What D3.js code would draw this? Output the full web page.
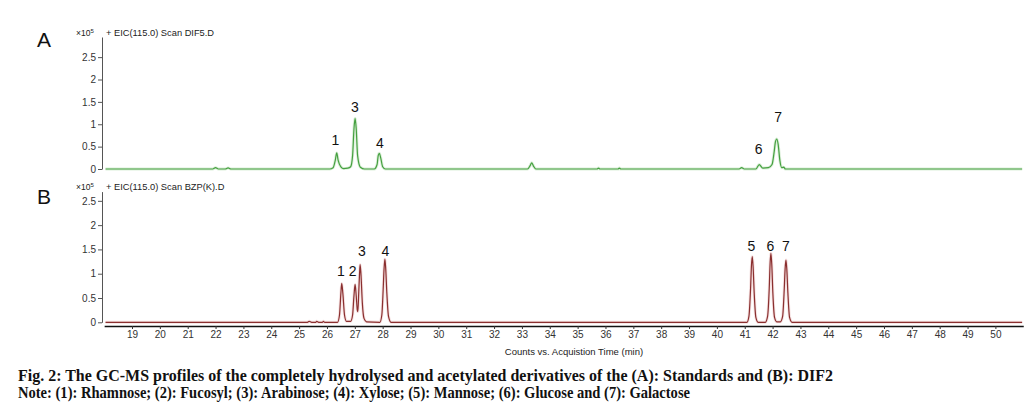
<!DOCTYPE html>
<html>
<head>
<meta charset="utf-8">
<script src="https://d3js.org/d3.v7.min.js"></script>
<style>
  html, body { margin: 0; padding: 0; background: #fff; }
  svg { display: block; }
</style>
</head>
<body>
<script>
// ---------- data ----------
const xTicks = d3.range(19, 51);
const yTicks = [0, 0.5, 1, 1.5, 2, 2.5];

// Panel A (standards) trace: retention time (min) and counts (x10^5)
const traceATime = [18.05,21.9,22.0,22.1,22.35,22.45,22.55,
  26.1,26.22,26.3,26.35,26.4,26.5,26.6,26.75,26.85,26.92,26.97,27.01,27.05,27.1,27.2,27.35,
  27.7,27.8,27.84,27.88,27.93,28.0,28.1,
  33.2,33.3,33.35,33.42,33.5,
  35.7,35.75,35.8,36.45,36.5,36.55,
  40.8,40.89,40.98,
  41.4,41.52,41.65,41.85,41.98,42.06,42.1,42.15,42.2,42.26,42.33,42.4,42.46,
  50.96];
const traceAValue = [0,0,0.03,0,0,0.025,0,
  0,0.03,0.2,0.36,0.2,0.05,0.01,0.02,0.05,0.3,0.9,1.13,0.9,0.3,0.04,0,
  0,0.1,0.3,0.35,0.25,0.05,0,
  0,0.08,0.14,0.06,0,
  0,0.02,0,0,0.02,0,
  0,0.03,0,
  0,0.1,0.02,0.03,0.1,0.4,0.6,0.67,0.55,0.2,0.03,0.04,0,
  0];
const peakALabels = ["1","3","4","6","7"];
const peakATime   = [26.3, 27.0, 27.9, 41.5, 42.2];
const peakALabelValue = [0.66, 1.38, 0.58, 0.44, 1.16];

// Panel B (DIF2) trace
const traceBTime = [18.05,25.3,25.36,25.45,25.6,25.63,25.7,25.84,25.87,25.92,
  26.38,26.45,26.5,26.53,26.57,26.63,26.7,
  26.85,26.92,26.97,27.01,27.05,27.09,27.11,27.14,27.17,27.19,27.22,27.27,27.33,27.42,
  27.9,27.97,28.02,28.05,28.08,28.11,28.15,28.21,28.3,
  41.08,41.15,41.21,41.24,41.27,41.3,41.34,41.4,41.48,
  41.74,41.82,41.88,41.91,41.94,41.97,42.01,42.07,42.15,
  42.28,42.36,42.42,42.45,42.48,42.51,42.55,42.61,42.7,
  50.96];
const traceBValue = [0,0,0.02,0,0,0.02,0,0,0.02,0,
  0,0.15,0.6,0.8,0.6,0.15,0.02,
  0.02,0.15,0.55,0.78,0.55,0.25,0.22,0.6,1.0,1.19,1.0,0.4,0.08,0.01,
  0,0.15,0.7,1.1,1.3,1.1,0.6,0.12,0,
  0,0.12,0.7,1.15,1.35,1.15,0.6,0.1,0,
  0,0.12,0.7,1.2,1.42,1.2,0.6,0.1,0.01,
  0.01,0.12,0.7,1.1,1.28,1.1,0.6,0.1,0,
  0];
const peakBLabels = ["1","2","3","4","5","6","7"];
const peakBTime   = [26.5, 26.92, 27.25, 28.1, 41.24, 41.92, 42.48];
const peakBLabelValue = [1.05, 1.05, 1.47, 1.47, 1.58, 1.58, 1.58];

const captionLines = [
  "Fig. 2: The GC-MS profiles of the completely hydrolysed and acetylated derivatives of the (A): Standards and (B): DIF2",
  "Note: (1): Rhamnose; (2): Fucosyl; (3): Arabinose; (4): Xylose; (5): Mannose; (6): Glucose and (7): Galactose"
];

// ---------- drawing ----------
const W = 1034, H = 411;
const svg = d3.select("body").append("svg").attr("width", W).attr("height", H)
  .style("font-family", "Arial, 'Liberation Sans', sans-serif");

const x = d3.scaleLinear().domain([18, 51]).range([104.15, 1023.25]);
const yA = d3.scaleLinear().domain([0, 2.95]).range([169, 37]);
const yB = d3.scaleLinear().domain([0, 2.69]).range([322.3, 191.6]);
const axisX = 102;

function panel(y, times, values, color, halo, labels, pTimes, pValues, letter, header, letterY, headerY) {
  const g = svg.append("g").attr("transform", `translate(${axisX},0)`)
    .call(d3.axisLeft(y).tickValues(yTicks).tickSize(4).tickSizeOuter(0).tickPadding(2)
      .tickFormat(d => String(d)));
  g.select(".domain").attr("stroke", "#555");
  g.selectAll(".tick line").attr("stroke", "#555");
  g.selectAll(".tick text").attr("fill", "#333").style("font-size", "10px");

  const pts = times.map((t, i) => [t, values[i]]);
  const line = d3.line().x(d => x(d[0])).y(d => y(d[1])).curve(d3.curveMonotoneX);
  svg.append("path").datum(pts).attr("d", line).attr("fill", "none")
    .attr("stroke", halo).attr("stroke-width", 3).attr("stroke-opacity", 0.4);
  svg.append("path").datum(pts).attr("d", line).attr("fill", "none")
    .attr("stroke", color).attr("stroke-width", 1.2);

  svg.append("g").selectAll("text").data(labels).join("text")
    .attr("x", (d, i) => x(pTimes[i]))
    .attr("y", (d, i) => y(pValues[i]))
    .attr("dy", "0.36em")
    .attr("text-anchor", "middle")
    .style("font-size", "14px").attr("fill", "#111")
    .text(d => d);

  svg.append("text").attr("x", 37).attr("y", letterY).text(letter)
    .style("font-size", "21px").attr("fill", "#111");
  const h = svg.append("text").attr("x", 76).attr("y", headerY)
    .style("font-size", "8.5px").attr("fill", "#222");
  h.append("tspan").text("\u00d710");
  h.append("tspan").attr("dy", -3).style("font-size", "6px").text("5");
  svg.append("text").attr("x", 106).attr("y", headerY)
    .style("font-size", "9.3px").attr("fill", "#222").text(header);
}

panel(yA, traceATime, traceAValue, "#45a040", "#a8d8a0", peakALabels, peakATime, peakALabelValue,
  "A", "+ EIC(115.0) Scan DIF5.D", 47, 36);
panel(yB, traceBTime, traceBValue, "#8a2f2f", "#e6b4b4", peakBLabels, peakBTime, peakBLabelValue,
  "B", "+ EIC(115.0) Scan BZP(K).D", 204, 190);

// x axis (under panel B)
const gx = svg.append("g").attr("transform", "translate(0,326)")
  .call(d3.axisBottom(x).tickValues(xTicks).tickSize(3).tickSizeOuter(0).tickPadding(2)
    .tickFormat(d3.format("d")));
gx.select(".domain").attr("stroke", "#111").attr("stroke-width", 1.6);
gx.selectAll(".tick line").attr("stroke", "#333");
gx.selectAll(".tick text").attr("fill", "#333").style("font-size", "10px");

svg.append("text").attr("x", 574).attr("y", 355).attr("text-anchor", "middle")
  .style("font-size", "9.5px").attr("fill", "#222")
  .text("Counts vs. Acquistion Time (min)");

// caption
const capW = [815, 672];
svg.append("g").selectAll("text").data(captionLines).join("text")
  .attr("x", 18).attr("y", (d, i) => 381 + i * 17)
  .attr("textLength", (d, i) => capW[i]).attr("lengthAdjust", "spacingAndGlyphs")
  .style("font-family", "'Liberation Serif', 'Times New Roman', serif")
  .style("font-weight", "bold").style("font-size", "16.5px").attr("fill", "#111")
  .text(d => d);
</script>
</body>
</html>
